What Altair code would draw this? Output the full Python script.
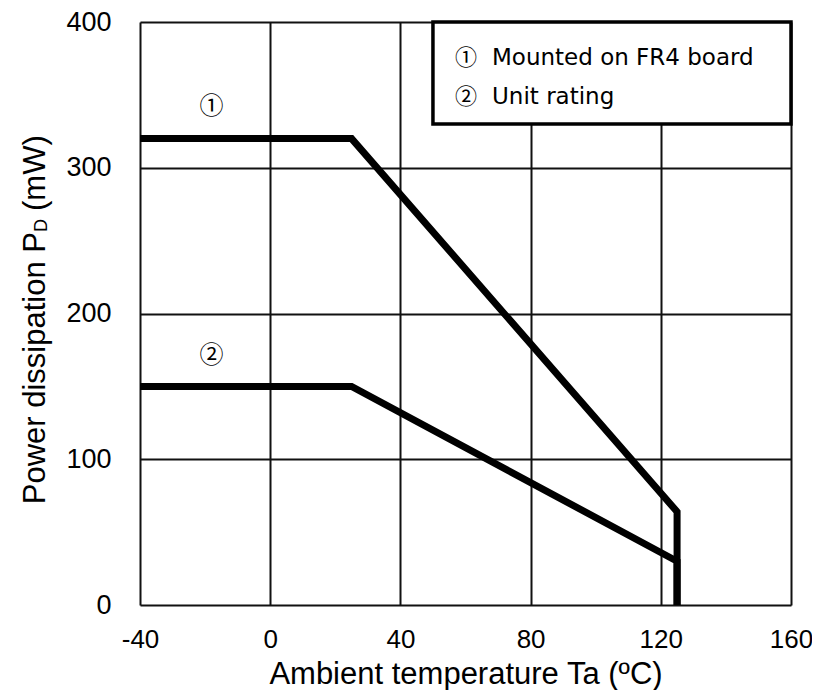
import altair as alt
import pandas as pd

# ---- data ----
series_names = ["FR4", "Unit"]
temp_fr4 = [-40, 25, 125, 125]
pd_fr4 = [320, 320, 64, 0]
temp_unit = [-40, 25, 125, 125]
pd_unit = [150, 150, 30, 0]

x_ticks = [-40, 0, 40, 80, 120, 160]
y_ticks = [0, 100, 200, 300, 400]

curve_marks = ["①", "②"]
curve_mark_temp = [-18, -18]
curve_mark_pd = [342, 171]

legend_marks = ["①", "②"]
legend_labels = ["Mounted on FR4 board", "Unit rating"]
legend_box_temp = [50, 160]
legend_box_pd = [330, 400]

x_title = "Ambient temperature Ta (ºC)"
y_title_parts = ["Power dissipation P", "D", "(mW)"]

# ---- tables ----
rows = []
for name, ts, ps in [(series_names[0], temp_fr4, pd_fr4), (series_names[1], temp_unit, pd_unit)]:
    for i, (t, p) in enumerate(zip(ts, ps)):
        rows.append({"series": name, "temp": t, "pd": p, "idx": i})
lines_df = pd.DataFrame(rows)

box_df = pd.DataFrame([{"temp": legend_box_temp[0], "temp2": legend_box_temp[1],
                        "pd": legend_box_pd[0], "pd2": legend_box_pd[1]}])
cm_df = pd.DataFrame({"temp": curve_mark_temp, "pd": curve_mark_pd, "label": curve_marks})

AX_FONT = "Liberation Sans, Arial, sans-serif"
xscale = alt.Scale(domain=[-40, 160], nice=False, zero=False)
yscale = alt.Scale(domain=[0, 400], nice=False)

x_axis = alt.Axis(values=x_ticks, title=x_title, domain=False, ticks=False, tickSize=0,
                  grid=True, gridColor="#111", gridWidth=2, gridOpacity=1,
                  labelExpr="'' + datum.value",
                  labelFont=AX_FONT, labelFontSize=26, labelColor="black", labelPadding=21,
                  labelFlush=False, labelOverlap=False,
                  titleFont=AX_FONT, titleFontSize=31, titleFontWeight="normal",
                  titleColor="black", titlePadding=7)
y_axis = alt.Axis(values=y_ticks, title=None, domain=False, ticks=False, tickSize=0,
                  grid=True, gridColor="#111", gridWidth=2, gridOpacity=1,
                  labelFont=AX_FONT, labelFontSize=27, labelColor="black", labelPadding=29,
                  labelFlush=False, labelOverlap=False)

X = alt.X("temp:Q", scale=xscale, axis=x_axis)
Y = alt.Y("pd:Q", scale=yscale, axis=y_axis)

box = alt.Chart(box_df).mark_rect(fill="white", stroke="black", strokeWidth=3.5).encode(
    x=X, x2="temp2:Q", y=Y, y2="pd2:Q")

lines = alt.Chart(lines_df).mark_line(color="black", strokeWidth=7, strokeCap="butt",
                                      strokeJoin="miter").encode(
    x=X, y=Y, detail="series:N", order="idx:Q")

cmarks = alt.Chart(cm_df).mark_text(font="Noto Sans CJK JP", fontSize=24, color="black",
                                    align="center", baseline="middle").encode(
    x=X, y=Y, text="label:N")

# legend entries (fixed layout inside the box)
legend_row_y = [36, 75]
legend_layers = []
for sym, lab, ry in zip(legend_marks, legend_labels, legend_row_y):
    d = pd.DataFrame({"mark": [sym], "label": [lab]})
    legend_layers.append(alt.Chart(d).mark_text(
        font="Noto Sans CJK JP", fontSize=22, color="black", align="center", baseline="middle"
    ).encode(x=alt.value(326), y=alt.value(ry), text="mark:N"))
    legend_layers.append(alt.Chart(d).mark_text(
        font="DejaVu Sans", fontSize=23, color="black", align="left", baseline="middle"
    ).encode(x=alt.value(352), y=alt.value(ry), text="label:N"))

YT_X = -95
yt1 = alt.Chart(pd.DataFrame({"t": [y_title_parts[0]]})).mark_text(
    font=AX_FONT, fontSize=31, angle=270, align="right", baseline="alphabetic", color="black"
).encode(x=alt.value(YT_X), y=alt.value(210), text="t:N")
yt2 = alt.Chart(pd.DataFrame({"t": [y_title_parts[1]]})).mark_text(
    font=AX_FONT, fontSize=18, angle=270, align="left", baseline="alphabetic", color="black"
).encode(x=alt.value(YT_X + 2), y=alt.value(210), text="t:N")
yt3 = alt.Chart(pd.DataFrame({"t": [y_title_parts[2]]})).mark_text(
    font=AX_FONT, fontSize=31, angle=270, align="left", baseline="alphabetic", color="black"
).encode(x=alt.value(YT_X), y=alt.value(189), text="t:N")

chart = alt.layer(box, lines, cmarks, *legend_layers, yt1, yt2, yt3).properties(
    width=651, height=583,
    autosize=alt.AutoSizeParams(type="none"),
    padding={"left": 132, "top": 14, "right": 21, "bottom": 85},
).configure_view(stroke="black", strokeWidth=4).configure(background="white")

chart.save("out.html", embed_options={"renderer": "svg", "actions": False})
